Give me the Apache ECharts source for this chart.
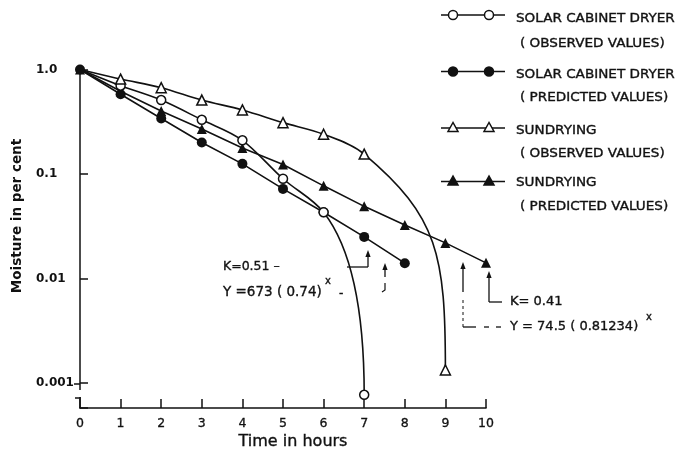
<!DOCTYPE html>
<html>
<head>
<meta charset="utf-8">
<script src="https://cdn.jsdelivr.net/npm/echarts@6/dist/echarts.min.js"></script>
<style>
  html, body { margin: 0; padding: 0; background: #fff; }
  #chart { width: 676px; height: 451px; }
</style>
</head>
<body>
<div id="chart"></div>
<script>
// Drying curves: moisture (per cent, log scale) against drying time (hours)

// Solar cabinet dryer, observed values
const solarObsHours = [0, 1, 2, 3, 4, 5, 6, 7];
const solarObs = [1.0, 0.70, 0.51, 0.33, 0.21, 0.09, 0.043, 0.00077];

// Solar cabinet dryer, predicted values
const solarPredHours = [0, 1, 2, 3, 4, 5, 6, 7, 8];
const solarPred = [1.0, 0.58, 0.34, 0.20, 0.125, 0.072, 0.043, 0.025, 0.014];

// Sun drying, observed values
const sunObsHours = [0, 1, 2, 3, 4, 5, 6, 7, 9];
const sunObs = [1.0, 0.81, 0.67, 0.51, 0.41, 0.31, 0.24, 0.155, 0.00133];

// Sun drying, predicted values
const sunPredHours = [0, 1, 2, 3, 4, 5, 6, 7, 8, 9, 10];
const sunPred = [1.0, 0.62, 0.40, 0.27, 0.177, 0.123, 0.077, 0.049, 0.0325, 0.0219, 0.0141];

// Axis ticks
const yTickValues = [1.0, 0.1, 0.01, 0.001];
const yTickLabels = ['1.0', '0.1', '0.01', '0.001'];
const hourMin = 0, hourMax = 10, hourStep = 1;
const moistureMin = Math.pow(10, -3.24);
const moistureMax = 1.0;

// Legend entries
const legendLines = [
  ['SOLAR CABINET DRYER', '( OBSERVED VALUES)'],
  ['SOLAR CABINET DRYER', '( PREDICTED VALUES)'],
  ['SUNDRYING', '( OBSERVED VALUES)'],
  ['SUNDRYING', '( PREDICTED VALUES)']
];

const INK = '#111111';
const FONT = 'DejaVu Sans';

const pairs = (xs, ys) => xs.map((x, i) => [x, ys[i]]);

// Hand-drawn style curve: gentle spline through the points, then a final
// sweep that lands vertically on the last observation.
function curveRenderer(hours, values, reach, drop) {
  return function (params, api) {
    if (params.dataIndex !== 0) return null;
    const p = hours.map((h, i) => api.coord([h, values[i]]));
    const n = p.length - 1;
    const unit = v => { const l = Math.hypot(v[0], v[1]); return [v[0] / l, v[1] / l]; };
    const inc = unit([p[n - 1][0] - p[n - 2][0], p[n - 1][1] - p[n - 2][1]]);
    const out = unit([p[n][0] - p[n - 1][0], p[n][1] - p[n - 1][1]]);
    const knee = unit([2 * inc[0] + out[0], 2 * inc[1] + out[1]]);
    const tan = [[p[1][0] - p[0][0], p[1][1] - p[0][1]]];
    for (let i = 1; i < n - 1; i++) {
      tan[i] = [(p[i + 1][0] - p[i - 1][0]) / 2, (p[i + 1][1] - p[i - 1][1]) / 2];
    }
    const children = [];
    const style = { stroke: INK, lineWidth: 1.6, fill: null };
    for (let i = 0; i < n - 1; i++) {
      let c2;
      if (i + 1 === n - 1) {
        const len = Math.hypot(p[i + 1][0] - p[i][0], p[i + 1][1] - p[i][1]) / 3;
        c2 = [p[i + 1][0] - knee[0] * len, p[i + 1][1] - knee[1] * len];
      } else {
        c2 = [p[i + 1][0] - tan[i + 1][0] / 3, p[i + 1][1] - tan[i + 1][1] / 3];
      }
      children.push({
        type: 'bezierCurve',
        shape: {
          x1: p[i][0], y1: p[i][1], x2: p[i + 1][0], y2: p[i + 1][1],
          cpx1: p[i][0] + tan[i][0] / 3, cpy1: p[i][1] + tan[i][1] / 3,
          cpx2: c2[0], cpy2: c2[1]
        },
        style
      });
    }
    const L = Math.hypot(p[n][0] - p[n - 1][0], p[n][1] - p[n - 1][1]);
    children.push({
      type: 'bezierCurve',
      shape: {
        x1: p[n - 1][0], y1: p[n - 1][1], x2: p[n][0], y2: p[n][1],
        cpx1: p[n - 1][0] + knee[0] * reach * L, cpy1: p[n - 1][1] + knee[1] * reach * L,
        cpx2: p[n][0], cpy2: p[n][1] - drop * L
      },
      style
    });
    return { type: 'group', children };
  };
}

// ---- annotation / legend helpers ----
function seg(x1, y1, x2, y2, lw, dash) {
  return { type: 'line', z: 20, shape: { x1, y1, x2, y2 },
    style: { stroke: INK, lineWidth: lw || 1.3, lineDash: dash || null } };
}
function arrowUp(x, y) {
  return { type: 'polygon', z: 20, shape: { points: [[x, y], [x - 2.6, y + 7], [x + 2.6, y + 7]] },
    style: { fill: INK } };
}
function label(x, y, text, size, extra) {
  return Object.assign({ type: 'text', z: 20, x, y,
    style: { text, fill: INK, stroke: INK, lineWidth: 0.35,
      font: (size || 12) + 'px "' + FONT + '"',
      textAlign: 'left', textVerticalAlign: 'middle' } }, extra || {});
}
function legendMarker(cx, cy, kind) {
  const filled = kind.indexOf('filled') >= 0;
  const style = { fill: filled ? INK : '#fff', stroke: INK, lineWidth: 1.5 };
  if (kind.indexOf('circle') >= 0) {
    return { type: 'circle', z: 20, shape: { cx, cy, r: 4.5 }, style };
  }
  return { type: 'polygon', z: 20, shape: { points: [[cx, cy - 5.5], [cx - 5, cy + 3.5], [cx + 5, cy + 3.5]] }, style };
}

const legendKinds = ['open-circle', 'filled-circle', 'open-triangle', 'filled-triangle'];
const legendIconY = [15, 71.5, 128, 181.5];
const legendTextY = [[19, 44], [74.5, 98], [130.5, 153.5], [183, 207]];

const graphics = [];
legendKinds.forEach((kind, i) => {
  const y = legendIconY[i];
  graphics.push(seg(441, y, 505, y, 1.5));
  graphics.push(legendMarker(453, y, kind));
  graphics.push(legendMarker(489, y, kind));
  graphics.push(label(516, legendTextY[i][0], legendLines[i][0], 12, { scaleX: 1.13 }));
  graphics.push(label(520, legendTextY[i][1], legendLines[i][1], 12, { scaleX: 1.13 }));
});

// rate constants and fitted equations
graphics.push(
  label(223, 267, 'K=0.51 \u2013', 12.5),
  seg(347, 267, 368, 267), seg(368, 267, 368, 256), arrowUp(368, 250),
  label(223, 292, 'Y =673 ( 0.74)', 13.5),
  label(325, 281, 'x', 10),
  label(339, 294, '-', 12),
  arrowUp(385, 263), seg(385, 269, 385, 277),
  { type: 'polyline', z: 20, shape: { points: [[385, 283], [385, 290], [382, 292]] },
    style: { stroke: INK, lineWidth: 1.2, fill: null } },
  arrowUp(463, 262), seg(463, 268, 463, 292), seg(463, 300, 463, 327, 1, [3, 3]),
  seg(463, 327, 476, 327), seg(484, 327, 489, 327), seg(496, 327, 501, 327),
  label(510, 327, 'Y = 74.5 ( 0.81234)', 13),
  label(646, 317, 'x', 10),
  arrowUp(489, 271), seg(489, 277, 489, 302), seg(489, 302, 502, 302),
  label(510, 302, 'K= 0.41', 13)
);

// axis titles
graphics.push(
  { type: 'text', z: 20, x: 17, y: 216, rotation: Math.PI / 2,
    style: { text: 'Moisture in per cent', fill: INK, font: 'bold 13.5px "' + FONT + '"',
      textAlign: 'center', textVerticalAlign: 'middle' } },
  { type: 'text', z: 20, x: 293, y: 442,
    style: { text: 'Time in hours', fill: INK, stroke: INK, lineWidth: 0.35,
      font: '16px "' + FONT + '"', textAlign: 'center', textVerticalAlign: 'middle' } }
);

// axis break near the foot of the moisture axis
graphics.push(
  { type: 'rect', z: 15, shape: { x: 77, y: 390, width: 6, height: 7 }, style: { fill: '#fff' } },
  seg(74, 384, 80, 384, 1.5),
  seg(75, 398, 81, 398, 1.5)
);

const chart = echarts.init(document.getElementById('chart'), null, { renderer: 'canvas' });

const yLabelFor = v => {
  const i = yTickValues.findIndex(t => Math.abs(Math.log10(t) - Math.log10(v)) < 1e-6);
  return i < 0 ? '' : yTickLabels[i];
};

chart.setOption({
  backgroundColor: '#fff',
  animation: false,
  grid: { left: 80, right: 190, top: 69.5, bottom: 43, containLabel: false },
  xAxis: {
    type: 'value', min: hourMin, max: hourMax, interval: hourStep,
    splitLine: { show: false },
    axisLine: { lineStyle: { color: INK, width: 1.6 } },
    axisTick: { inside: true, length: 9, lineStyle: { color: INK, width: 1.5 } },
    axisLabel: { color: INK, fontFamily: FONT, fontSize: 12.5, margin: 9,
      textBorderColor: INK, textBorderWidth: 0.3 }
  },
  yAxis: {
    type: 'log', logBase: 10, min: moistureMin, max: moistureMax,
    splitLine: { show: false },
    axisLine: { lineStyle: { color: INK, width: 1.5 } },
    axisTick: { inside: true, length: 8, lineStyle: { color: INK, width: 1.5 } },
    axisLabel: { color: INK, fontFamily: FONT, fontWeight: 'bold', fontSize: 12,
      align: 'left', margin: 44, padding: [6, 0, 0, 0], formatter: yLabelFor }
  },
  graphic: graphics,
  series: [
    {
      name: 'Solar cabinet dryer (observed) curve', type: 'custom', z: 2, silent: true,
      data: pairs(solarObsHours, solarObs),
      renderItem: curveRenderer(solarObsHours, solarObs, 0.3, 0.3)
    },
    {
      name: 'Sundrying (observed) curve', type: 'custom', z: 2, silent: true,
      data: pairs(sunObsHours, sunObs),
      renderItem: curveRenderer(sunObsHours, sunObs, 0.42, 0.5)
    },
    {
      name: 'Solar cabinet dryer (predicted)', type: 'line', z: 3,
      data: pairs(solarPredHours, solarPred),
      symbol: 'circle', symbolSize: 10,
      lineStyle: { color: INK, width: 1.6 },
      itemStyle: { color: INK }
    },
    {
      name: 'Sundrying (predicted)', type: 'line', z: 3,
      data: pairs(sunPredHours, sunPred),
      symbol: 'triangle', symbolSize: 10,
      lineStyle: { color: INK, width: 1.6 },
      itemStyle: { color: INK }
    },
    // open markers; the shared starting point is drawn once as the solid dot
    {
      name: 'Solar cabinet dryer (observed)', type: 'scatter', z: 5,
      data: pairs(solarObsHours, solarObs).slice(1),
      symbol: 'circle', symbolSize: 9,
      itemStyle: { color: '#fff', borderColor: INK, borderWidth: 1.5, opacity: 1 }
    },
    {
      name: 'Sundrying (observed)', type: 'scatter', z: 5,
      data: pairs(sunObsHours, sunObs).slice(1),
      symbol: 'triangle', symbolSize: 10,
      itemStyle: { color: '#fff', borderColor: INK, borderWidth: 1.5, opacity: 1 }
    }
  ]
});
</script>
</body>
</html>
